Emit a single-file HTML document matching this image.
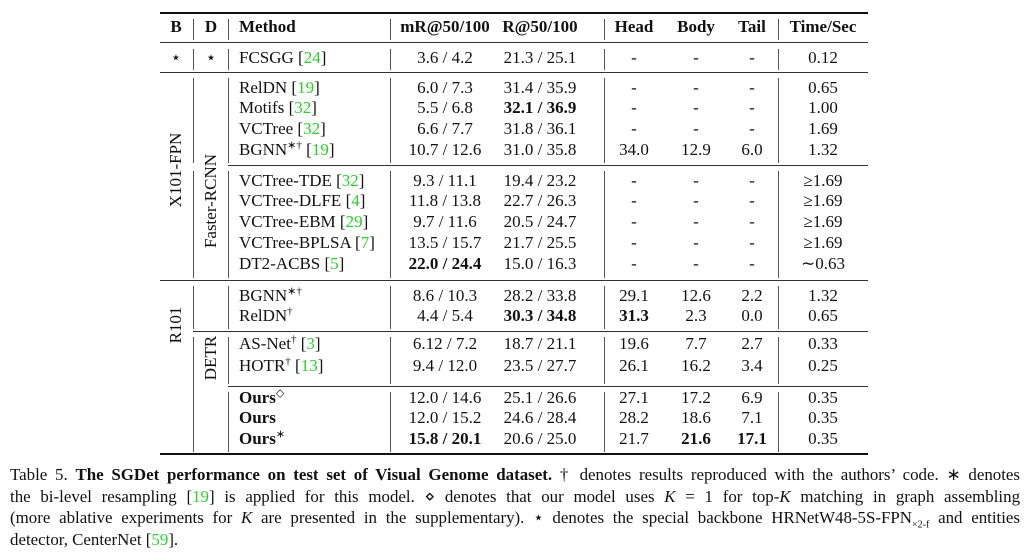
<!DOCTYPE html>
<html><head><meta charset="utf-8"><style>
body{margin:0;background:#fff;width:1024px;height:560px;position:relative;overflow:hidden;font-family:"Liberation Serif",serif;color:#111;font-size:17px}
.h{position:absolute;background:#333;height:1px}
.v{position:absolute;background:#555;width:1.3px}
.r{position:absolute;height:20px;line-height:20px;white-space:nowrap}
.c{position:absolute;transform:translateX(-50%);white-space:nowrap}
.b{font-weight:bold}
.g{color:#2bd12b}
sup{font-size:11px;line-height:0}
.rot{position:absolute;transform:translate(-50%,-50%) rotate(-90deg);white-space:nowrap;line-height:20px}
.cap{position:absolute;left:10px;width:1010px;font-size:16.9px;line-height:21.5px;top:464px}
.cap div{text-align:justify;text-align-last:justify;white-space:nowrap;height:21.5px}
.cap div.last{text-align-last:left}
</style></head><body>
<div class="h" style="left:160px;width:708px;top:12px;height:2px;background:#111"></div>
<div class="h" style="left:160px;width:708px;top:42px"></div>
<div class="h" style="left:160px;width:708px;top:72px"></div>
<div class="h" style="left:228px;width:640px;top:165px"></div>
<div class="h" style="left:160px;width:708px;top:280px"></div>
<div class="h" style="left:193px;width:675px;top:331px"></div>
<div class="h" style="left:228px;width:640px;top:386px"></div>
<div class="h" style="left:160px;width:708px;top:453px;height:2px;background:#111"></div>

<div class="v" style="left:193px;top:19px;height:21px"></div>
<div class="v" style="left:228px;top:19px;height:21px"></div>
<div class="v" style="left:390px;top:19px;height:21px"></div>
<div class="v" style="left:604px;top:19px;height:21px"></div>
<div class="v" style="left:778px;top:19px;height:21px"></div>

<div class="v" style="left:193px;top:49px;height:21px"></div>
<div class="v" style="left:228px;top:49px;height:21px"></div>
<div class="v" style="left:390px;top:49px;height:21px"></div>
<div class="v" style="left:604px;top:49px;height:21px"></div>
<div class="v" style="left:778px;top:49px;height:21px"></div>

<div class="v" style="left:193px;top:78px;height:85px"></div>
<div class="v" style="left:193px;top:171px;height:107px"></div>
<div class="v" style="left:228px;top:78px;height:85px"></div>
<div class="v" style="left:228px;top:171px;height:107px"></div>
<div class="v" style="left:390px;top:78px;height:85px"></div>
<div class="v" style="left:390px;top:171px;height:107px"></div>
<div class="v" style="left:604px;top:78px;height:85px"></div>
<div class="v" style="left:604px;top:171px;height:107px"></div>
<div class="v" style="left:778px;top:78px;height:85px"></div>
<div class="v" style="left:778px;top:171px;height:107px"></div>

<div class="v" style="left:193px;top:286px;height:43px"></div>
<div class="v" style="left:193px;top:337px;height:115px"></div>
<div class="v" style="left:228px;top:286px;height:43px"></div>
<div class="v" style="left:228px;top:337px;height:47px"></div>
<div class="v" style="left:228px;top:392px;height:60px"></div>
<div class="v" style="left:390px;top:286px;height:43px"></div>
<div class="v" style="left:390px;top:337px;height:47px"></div>
<div class="v" style="left:390px;top:392px;height:60px"></div>
<div class="v" style="left:604px;top:286px;height:43px"></div>
<div class="v" style="left:604px;top:337px;height:47px"></div>
<div class="v" style="left:604px;top:392px;height:60px"></div>
<div class="v" style="left:778px;top:286px;height:43px"></div>
<div class="v" style="left:778px;top:337px;height:47px"></div>
<div class="v" style="left:778px;top:392px;height:60px"></div>

<div class="r b" style="top:17px;left:0;width:1024px">
<span class="c" style="left:176px">B</span><span class="c" style="left:211px">D</span><span style="position:absolute;left:239px">Method</span><span class="c" style="left:445px">mR@50/100</span><span class="c" style="left:540px">R@50/100</span><span class="c" style="left:634px">Head</span><span class="c" style="left:696px">Body</span><span class="c" style="left:752px">Tail</span><span class="c" style="left:823px">Time/Sec</span></div>

<div class="r" style="top:48px;left:0;width:1024px"><span class="c" style="left:176px">⋆</span><span class="c" style="left:211px">⋆</span><span style="position:absolute;left:239px">FCSGG [<span class="g">24</span>]</span><span class="c" style="left:445px">3.6 / 4.2</span><span class="c" style="left:540px">21.3 / 25.1</span><span class="c" style="left:634px">-</span><span class="c" style="left:696px">-</span><span class="c" style="left:752px">-</span><span class="c" style="left:823px">0.12</span></div>

<div class="r" style="top:78px;left:0;width:1024px"><span style="position:absolute;left:239px">RelDN [<span class="g">19</span>]</span><span class="c" style="left:445px">6.0 / 7.3</span><span class="c" style="left:540px">31.4 / 35.9</span><span class="c" style="left:634px">-</span><span class="c" style="left:696px">-</span><span class="c" style="left:752px">-</span><span class="c" style="left:823px">0.65</span></div>
<div class="r" style="top:98px;left:0;width:1024px"><span style="position:absolute;left:239px">Motifs [<span class="g">32</span>]</span><span class="c" style="left:445px">5.5 / 6.8</span><span class="c b" style="left:540px">32.1 / 36.9</span><span class="c" style="left:634px">-</span><span class="c" style="left:696px">-</span><span class="c" style="left:752px">-</span><span class="c" style="left:823px">1.00</span></div>
<div class="r" style="top:119px;left:0;width:1024px"><span style="position:absolute;left:239px">VCTree [<span class="g">32</span>]</span><span class="c" style="left:445px">6.6 / 7.7</span><span class="c" style="left:540px">31.8 / 36.1</span><span class="c" style="left:634px">-</span><span class="c" style="left:696px">-</span><span class="c" style="left:752px">-</span><span class="c" style="left:823px">1.69</span></div>
<div class="r" style="top:140px;left:0;width:1024px"><span style="position:absolute;left:239px">BGNN<sup>∗†</sup> [<span class="g">19</span>]</span><span class="c" style="left:445px">10.7 / 12.6</span><span class="c" style="left:540px">31.0 / 35.8</span><span class="c" style="left:634px">34.0</span><span class="c" style="left:696px">12.9</span><span class="c" style="left:752px">6.0</span><span class="c" style="left:823px">1.32</span></div>

<div class="r" style="top:171px;left:0;width:1024px"><span style="position:absolute;left:239px">VCTree-TDE [<span class="g">32</span>]</span><span class="c" style="left:445px">9.3 / 11.1</span><span class="c" style="left:540px">19.4 / 23.2</span><span class="c" style="left:634px">-</span><span class="c" style="left:696px">-</span><span class="c" style="left:752px">-</span><span class="c" style="left:823px">≥1.69</span></div>
<div class="r" style="top:191px;left:0;width:1024px"><span style="position:absolute;left:239px">VCTree-DLFE [<span class="g">4</span>]</span><span class="c" style="left:445px">11.8 / 13.8</span><span class="c" style="left:540px">22.7 / 26.3</span><span class="c" style="left:634px">-</span><span class="c" style="left:696px">-</span><span class="c" style="left:752px">-</span><span class="c" style="left:823px">≥1.69</span></div>
<div class="r" style="top:212px;left:0;width:1024px"><span style="position:absolute;left:239px">VCTree-EBM [<span class="g">29</span>]</span><span class="c" style="left:445px">9.7 / 11.6</span><span class="c" style="left:540px">20.5 / 24.7</span><span class="c" style="left:634px">-</span><span class="c" style="left:696px">-</span><span class="c" style="left:752px">-</span><span class="c" style="left:823px">≥1.69</span></div>
<div class="r" style="top:233px;left:0;width:1024px"><span style="position:absolute;left:239px">VCTree-BPLSA [<span class="g">7</span>]</span><span class="c" style="left:445px">13.5 / 15.7</span><span class="c" style="left:540px">21.7 / 25.5</span><span class="c" style="left:634px">-</span><span class="c" style="left:696px">-</span><span class="c" style="left:752px">-</span><span class="c" style="left:823px">≥1.69</span></div>
<div class="r" style="top:254px;left:0;width:1024px"><span style="position:absolute;left:239px">DT2-ACBS [<span class="g">5</span>]</span><span class="c b" style="left:445px">22.0 / 24.4</span><span class="c" style="left:540px">15.0 / 16.3</span><span class="c" style="left:634px">-</span><span class="c" style="left:696px">-</span><span class="c" style="left:752px">-</span><span class="c" style="left:823px">∼0.63</span></div>

<div class="r" style="top:286px;left:0;width:1024px"><span style="position:absolute;left:239px">BGNN<sup>∗†</sup></span><span class="c" style="left:445px">8.6 / 10.3</span><span class="c" style="left:540px">28.2 / 33.8</span><span class="c" style="left:634px">29.1</span><span class="c" style="left:696px">12.6</span><span class="c" style="left:752px">2.2</span><span class="c" style="left:823px">1.32</span></div>
<div class="r" style="top:306px;left:0;width:1024px"><span style="position:absolute;left:239px">RelDN<sup>†</sup></span><span class="c" style="left:445px">4.4 / 5.4</span><span class="c b" style="left:540px">30.3 / 34.8</span><span class="c b" style="left:634px">31.3</span><span class="c" style="left:696px">2.3</span><span class="c" style="left:752px">0.0</span><span class="c" style="left:823px">0.65</span></div>

<div class="r" style="top:334px;left:0;width:1024px"><span style="position:absolute;left:239px">AS-Net<sup>†</sup> [<span class="g">3</span>]</span><span class="c" style="left:445px">6.12 / 7.2</span><span class="c" style="left:540px">18.7 / 21.1</span><span class="c" style="left:634px">19.6</span><span class="c" style="left:696px">7.7</span><span class="c" style="left:752px">2.7</span><span class="c" style="left:823px">0.33</span></div>
<div class="r" style="top:356px;left:0;width:1024px"><span style="position:absolute;left:239px">HOTR<sup>†</sup> [<span class="g">13</span>]</span><span class="c" style="left:445px">9.4 / 12.0</span><span class="c" style="left:540px">23.5 / 27.7</span><span class="c" style="left:634px">26.1</span><span class="c" style="left:696px">16.2</span><span class="c" style="left:752px">3.4</span><span class="c" style="left:823px">0.25</span></div>

<div class="r" style="top:388px;left:0;width:1024px"><span class="b" style="position:absolute;left:239px">Ours<sup style="font-weight:normal">◇</sup></span><span class="c" style="left:445px">12.0 / 14.6</span><span class="c" style="left:540px">25.1 / 26.6</span><span class="c" style="left:634px">27.1</span><span class="c" style="left:696px">17.2</span><span class="c" style="left:752px">6.9</span><span class="c" style="left:823px">0.35</span></div>
<div class="r" style="top:408px;left:0;width:1024px"><span class="b" style="position:absolute;left:239px">Ours</span><span class="c" style="left:445px">12.0 / 15.2</span><span class="c" style="left:540px">24.6 / 28.4</span><span class="c" style="left:634px">28.2</span><span class="c" style="left:696px">18.6</span><span class="c" style="left:752px">7.1</span><span class="c" style="left:823px">0.35</span></div>
<div class="r" style="top:429px;left:0;width:1024px"><span class="b" style="position:absolute;left:239px">Ours<sup style="font-weight:normal">∗</sup></span><span class="c b" style="left:445px">15.8 / 20.1</span><span class="c" style="left:540px">20.6 / 25.0</span><span class="c" style="left:634px">21.7</span><span class="c b" style="left:696px">21.6</span><span class="c b" style="left:752px">17.1</span><span class="c" style="left:823px">0.35</span></div>

<div class="rot" style="left:176px;top:170px">X101-FPN</div>
<div class="rot" style="left:211px;top:201px">Faster-RCNN</div>
<div class="rot" style="left:176px;top:325px">R101</div>
<div class="rot" style="left:211px;top:358px">DETR</div>

<div class="cap">
<div>Table 5. <b>The SGDet performance on test set of Visual Genome dataset.</b> † denotes results reproduced with the authors’ code. ∗ denotes</div>
<div>the bi-level resampling [<span class="g">19</span>] is applied for this model. ⋄ denotes that our model uses <i>K</i> = 1 for top-<i>K</i> matching in graph assembling</div>
<div>(more ablative experiments for <i>K</i> are presented in the supplementary). ⋆ denotes the special backbone HRNetW48-5S-FPN<sub style="font-size:10px;line-height:0">×2-f</sub> and entities</div>
<div class="last">detector, CenterNet [<span class="g">59</span>].</div>
</div>
</body></html>
